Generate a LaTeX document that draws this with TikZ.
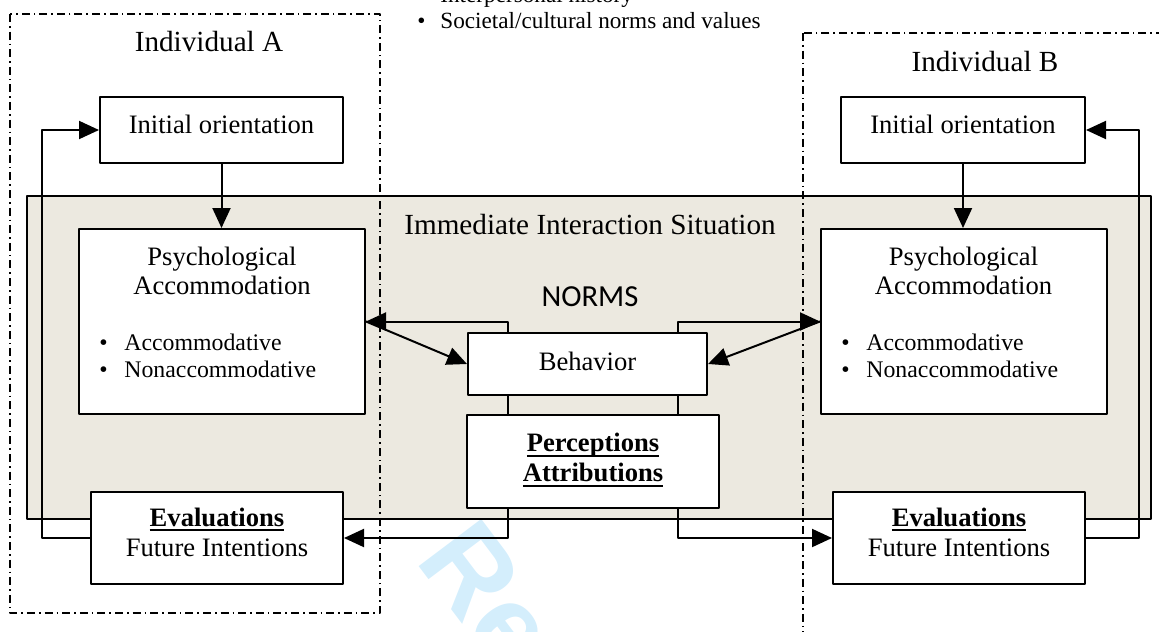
\documentclass[tikz,border=0pt]{standalone}
\usepackage{fontspec}
\setmainfont{Liberation Serif}
\newfontfamily\normsfont{Carlito}
\newfontfamily\markfont{Liberation Sans}
\usepackage{tikz}
\usetikzlibrary{arrows.meta,calc}
\definecolor{situbg}{RGB}{236,233,224}
\definecolor{markblue}{RGB}{212,238,252}
\newlength\ulwd
\newcommand{\ulbf}[1]{\settowidth{\ulwd}{\textbf{#1}}\textbf{#1}\hspace{-\ulwd}\rule[-2.6pt]{\ulwd}{1.2pt}}
\newcommand{\bulitem}[2][12.5pt]{\makebox[#1][l]{\textbullet}#2}

\begin{document}
\begin{tikzpicture}[line cap=round,line join=round,x=0.5pt,y=-0.5pt,
  box/.style={draw,fill=white,line width=1pt,inner sep=0pt,align=center,font=\fontsize{13.3}{15}\selectfont},
  lbl/.style={inner sep=0pt,anchor=base,font=\fontsize{13.3}{15}\selectfont},
  head/.style={inner sep=0pt,anchor=base,font=\fontsize{14.6}{17}\selectfont},
  item/.style={inner sep=0pt,anchor=base west,font=\fontsize{11.9}{14}\selectfont},
  arr/.style={line width=1pt,-{Triangle[length=10pt,width=9pt]}},
  link/.style={line width=1pt},
  indiv/.style={line width=0.8pt,line cap=butt,dash pattern=on 4pt off 2pt on 0.8pt off 2pt}]
\useasboundingbox (0,0) rectangle (1159,631);
\clip (0,0) rectangle (1159,631);
\node[anchor=base west,rotate=-53,inner sep=0pt,text=markblue,font=\markfont\bfseries\fontsize{57}{57}\selectfont] (mark) at (414,560) {Re};
% interaction situation
\draw[line width=1pt,fill=situbg] (27,196) rectangle (1151,519);
\draw[indiv] (10,14) rectangle (380,613);
\draw[indiv] (803,33) rectangle (1190,680);
\node[item,font=\fontsize{11.6}{13}\selectfont] (hist) at (417,3) {\bulitem[11.5pt]{Interpersonal history}};
\node[item,font=\fontsize{11.6}{13}\selectfont] (soc) at (417,29) {\bulitem[11.5pt]{Societal/cultural norms and values}};
\node[head] (indA) at (209,52) {Individual A};
\node[head] (indB) at (985,72) {Individual B};
\node[head] (situ) at (590,234) {Immediate Interaction Situation};
\node[inner sep=0pt,anchor=base,font=\normsfont\fontsize{15.3}{18}\selectfont] (norms) at (590,306) {NORMS};
% boxes
\node[box,minimum width=121.5pt,minimum height=33pt,text depth=6pt] (iniA) at (221.5,130) {Initial orientation};
\node[box,minimum width=122pt,minimum height=33pt,text depth=6pt] (iniB) at (963,130) {Initial orientation};
\node[box,minimum width=143pt,minimum height=92.5pt] (psyA) at (222,321.5) {};
\node[box,minimum width=143pt,minimum height=92.5pt] (psyB) at (964,321.5) {};
\node[box,minimum width=119.5pt,minimum height=31pt,text depth=3pt] (beh) at (587.5,364) {Behavior};
\node[box,minimum width=126pt,minimum height=46.5pt,text depth=4pt] (per) at (593,461.5) {\ulbf{Perceptions}\\\ulbf{Attributions}};
\node[box,minimum width=126pt,minimum height=46pt,text depth=6pt] (evaA) at (217,538) {\ulbf{Evaluations}\\Future Intentions};
\node[box,minimum width=126pt,minimum height=46pt,text depth=6pt] (evaB) at (959,538) {\ulbf{Evaluations}\\Future Intentions};
\node[lbl] (psyAh1) at (222,265) {Psychological};
\node[lbl] (psyAh2) at (222,294) {Accommodation};
\node[item] (psyAb1) at (99,350) {\bulitem{Accommodative}};
\node[item] (psyAb2) at (99,377) {\bulitem{Nonaccommodative}};
\node[lbl] (psyBh1) at (963.5,265) {Psychological};
\node[lbl] (psyBh2) at (963.5,294) {Accommodation};
\node[item] (psyBb1) at (841,350) {\bulitem{Accommodative}};
\node[item] (psyBb2) at (841,377) {\bulitem{Nonaccommodative}};
% connectors
\coordinate (xL) at (507.5,0);
\coordinate (xR) at (677.5,0);
\draw[arr] (iniA.south) -- (iniA.south |- psyA.north);
\draw[arr] (iniB.south) -- (iniB.south |- psyB.north);
\draw[arr] (evaA.west) -- ++(-48,0) |- (iniA.west);
\draw[arr] (evaB.east) -- ++(53,0) |- (iniB.east);
\draw[arr] (xL |- beh.north) |- (psyA.east);
\draw[arr] (xR |- beh.north) |- (psyB.west);
\draw[arr] (psyA.east) -- (beh.west);
\draw[arr] (psyB.west) -- (beh.east);
\draw[link] (xL |- beh.south) -- (xL |- per.north);
\draw[link] (xR |- beh.south) -- (xR |- per.north);
\draw[arr] (xL |- per.south) |- (evaA.east);
\draw[arr] (xR |- per.south) |- (evaB.west);
\end{tikzpicture}
\end{document}
